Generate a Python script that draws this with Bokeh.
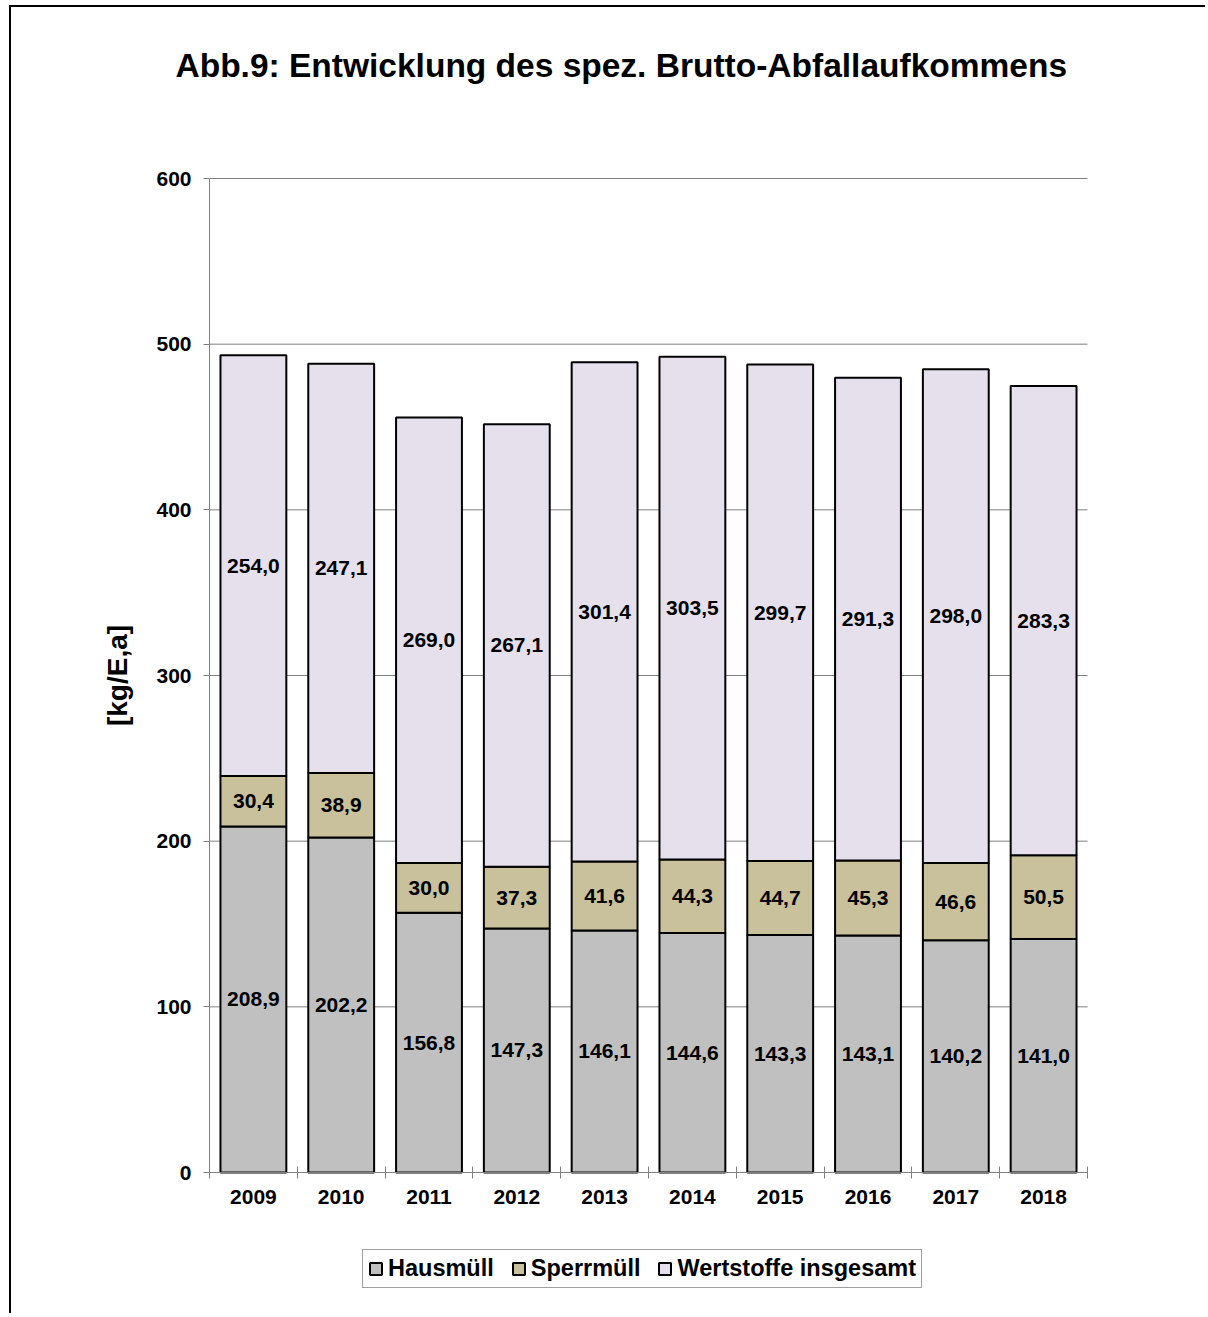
from bokeh.plotting import figure
from bokeh.models import (ColumnDataSource, FixedTicker, Legend, LegendItem,
                          LabelSet, Label, Range1d)
from bokeh.core.properties import value
from bokeh.embed import file_html
from bokeh.resources import INLINE

# Spezifisches Brutto-Abfallaufkommen [kg/E,a]
years = ["2009", "2010", "2011", "2012", "2013", "2014", "2015", "2016", "2017", "2018"]
hausmuell = [208.9, 202.2, 156.8, 147.3, 146.1, 144.6, 143.3, 143.1, 140.2, 141.0]
sperrmuell = [30.4, 38.9, 30.0, 37.3, 41.6, 44.3, 44.7, 45.3, 46.6, 50.5]
wertstoffe = [254.0, 247.1, 269.0, 267.1, 301.4, 303.5, 299.7, 291.3, 298.0, 283.3]
series_names = ["Hausmüll", "Sperrmüll", "Wertstoffe insgesamt"]
y_ticks = [0, 100, 200, 300, 400, 500, 600]
y_max = 600

colors = ["#C0C0C0", "#C8C19C", "#E5E0EC"]
FONT = "Liberation Sans"
GRAY = "#808080"

n = len(years)
xs = [i + 0.5 for i in range(n)]
keys = ["hm", "sm", "ws"]
data = {"x": xs, "hm": hausmuell, "sm": sperrmuell, "ws": wertstoffe}

# segment centres and label texts (German decimal comma)
bottom = [0.0] * n
for k, vals in zip(keys, [hausmuell, sperrmuell, wertstoffe]):
    data[k + "_mid"] = [b + v / 2 for b, v in zip(bottom, vals)]
    data[k + "_txt"] = [f"{v:.1f}".replace(".", ",") for v in vals]
    bottom = [b + v for b, v in zip(bottom, vals)]
src = ColumnDataSource(data)

# page layout (pixels): canvas placement and the plotting area inside it
OX, OY, W, H = 11, 7, 1196, 1308
AX_L, AX_R, AX_T, AX_B = 209, 1087, 178, 1172
kx = (AX_R - AX_L) / n
ky = (AX_B - AX_T) / y_max
x_range = Range1d(-(AX_L - OX) / kx, n + (OX + W - AX_R) / kx)
y_range = Range1d(-(OY + H - AX_B) / ky, y_max + (AX_T - OY) / ky)

p = figure(width=W, height=H, x_range=x_range, y_range=y_range,
           output_backend="svg", toolbar_location=None,
           min_border_left=0, min_border_right=0,
           min_border_top=0, min_border_bottom=0)
p.styles = {"margin-left": f"{OX - 2}px", "margin-top": f"{OY - 2}px",
            "border-left": "2px solid #000", "border-top": "2px solid #000"}
p.outline_line_color = None
p.background_fill_color = "white"
p.border_fill_color = "white"
p.xgrid.visible = False
p.ygrid.visible = False

# horizontal grid lines across the category span
p.segment(x0=0, x1=n, y0=y_ticks, y1=y_ticks, line_color=GRAY, line_width=1)

renderers = p.vbar_stack(keys, x="x", width=0.75, source=src,
                         fill_color=colors, line_color="black", line_width=2)

for k in keys:
    p.add_layout(LabelSet(x="x", y=k + "_mid", text=k + "_txt", source=src,
                          text_align="center", text_baseline="middle",
                          text_font=value(FONT), text_font_size="21px",
                          text_font_style="bold", text_color="black"))

# x axis at y=0: year labels at bar centres, tick marks at category boundaries
xax = p.xaxis[0]
xax.fixed_location = 0
xax.bounds = (0, n)
xax.ticker = FixedTicker(ticks=xs, minor_ticks=list(range(n + 1)))
xax.major_label_overrides = {x: y for x, y in zip(xs, years)}
xax.major_tick_line_color = None
xax.minor_tick_in = 6
xax.minor_tick_out = 6
xax.minor_tick_line_color = GRAY
xax.axis_line_color = GRAY
xax.major_label_standoff = 11
xax.major_label_text_font = FONT
xax.major_label_text_font_size = "21px"
xax.major_label_text_font_style = "bold"
xax.major_label_text_color = "black"

yax = p.yaxis[0]
yax.fixed_location = 0
yax.bounds = (0, y_max)
yax.ticker = FixedTicker(ticks=y_ticks)
yax.major_tick_in = 0
yax.major_tick_out = 6
yax.minor_tick_line_color = None
yax.major_tick_line_color = GRAY
yax.axis_line_color = GRAY
yax.major_label_standoff = 12
yax.major_label_text_font = FONT
yax.major_label_text_font_size = "21px"
yax.major_label_text_font_style = "bold"
yax.major_label_text_color = "black"
yax.axis_label = "[kg/E,a]"
yax.axis_label_standoff = 20
yax.axis_label_text_font = FONT
yax.axis_label_text_font_size = "28px"
yax.axis_label_text_font_style = "bold"
yax.axis_label_text_color = "black"

p.add_layout(Label(x=175 - OX, y=OY + H - 65, x_units="screen", y_units="screen",
                   text="Abb.9: Entwicklung des spez. Brutto-Abfallaufkommens",
                   text_align="left", text_baseline="alphabetic",
                   text_font=FONT, text_font_size="33.5px", text_font_style="bold",
                   text_color="black"))

legend = Legend(items=[LegendItem(label=nm, renderers=[r]) for nm, r in zip(series_names, renderers)],
                orientation="horizontal", location=(362 - OX, OY + H - 1288),
                glyph_width=15, glyph_height=15, label_standoff=5, spacing=17,
                padding=5, margin=0,
                label_text_font=FONT, label_text_font_size="23.5px",
                label_text_font_style="bold", label_text_color="black",
                border_line_color="#404040", border_line_width=1,
                background_fill_color="white", background_fill_alpha=1)
p.add_layout(legend)

open("out.html", "w").write(file_html(p, INLINE))
